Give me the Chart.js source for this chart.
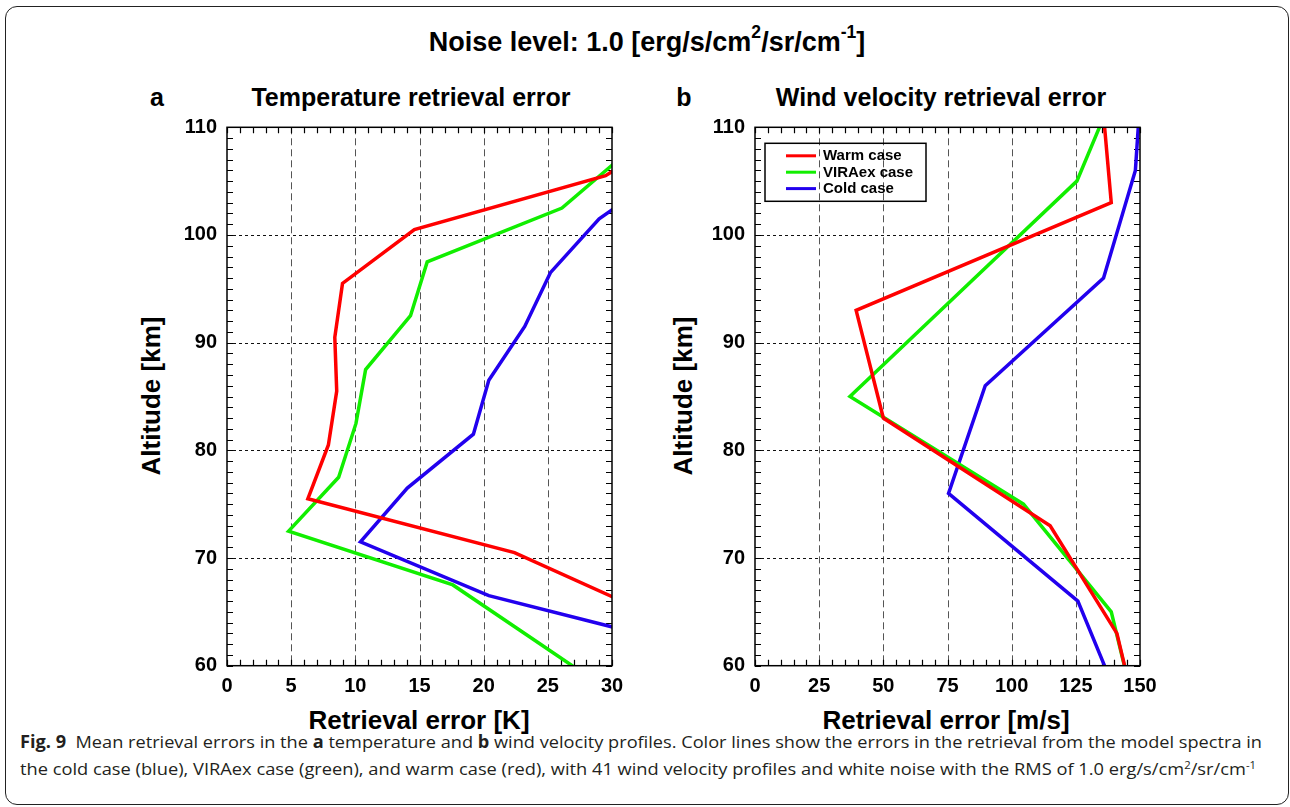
<!DOCTYPE html>
<html>
<head>
<meta charset="utf-8">
<script src="https://cdn.jsdelivr.net/npm/chart.js@4.4.1/dist/chart.umd.min.js"></script>
<style>
  body { margin: 0; width: 1290px; height: 807px; overflow: hidden; background: #fff; position: relative;
         font-family: "Liberation Sans", Arial, sans-serif; }
  .frame { position: absolute; left: 5px; top: 6px; width: 1282px; height: 797px;
           border: 1.3px solid #222; border-radius: 12px; }
  .t { position: absolute; transform: translate(-50%, -50%); white-space: nowrap; font-weight: bold; color: #000; }
  .rot { transform: translate(-50%, -50%) rotate(-90deg); }
  .box { position: absolute; }
  .cap { position: absolute; left: 20px; white-space: nowrap; font-family: "Open Sans", "Noto Sans", sans-serif;
         font-size: 17px; color: #231f20; transform-origin: left center; }
  .cap sup { font-size: 0.62em; vertical-align: 0; position: relative; top: -0.55em; }
  sup { line-height: 0; }
</style>
</head>
<body>
<div class="frame"></div>

<div class="t" style="left:647px; top:42px; font-size:27px;">Noise level: 1.0 [erg/s/cm<sup style="font-size:0.65em; position:relative; top:-0.15em;">2</sup>/sr/cm<sup style="font-size:0.65em; position:relative; top:-0.15em;">-1</sup>]</div>

<div class="t" style="left:157px; top:97px; font-size:25px;">a</div>
<div class="t" style="left:411px; top:97px; font-size:25px;">Temperature retrieval error</div>
<div class="t" style="left:684px; top:97px; font-size:25px;">b</div>
<div class="t" style="left:941px; top:97px; font-size:25px;">Wind velocity retrieval error</div>

<div class="t rot" style="left:151px; top:396px; font-size:26px;">Altitude [km]</div>
<div class="t rot" style="left:683px; top:396px; font-size:26px;">Altitude [km]</div>
<div class="t" style="left:419px; top:720px; font-size:26px;">Retrieval error [K]</div>
<div class="t" style="left:946px; top:720px; font-size:26px;">Retrieval error [m/s]</div>

<div class="box" style="left:130px; top:110px; width:500px; height:600px;"><canvas id="graficoTemp"></canvas></div>
<div class="box" style="left:658px; top:110px; width:500px; height:600px;"><canvas id="graficoViento"></canvas></div>

<div class="cap" id="cap1" style="top:730px;"><b>Fig. 9</b>&nbsp; Mean retrieval errors in the <b>a</b> temperature and <b>b</b> wind velocity profiles. Color lines show the errors in the retrieval from the model spectra in</div>
<div class="cap" id="cap2" style="top:757px;">the cold case (blue), VIRAex case (green), and warm case (red), with 41 wind velocity profiles and white noise with the RMS of 1.0 erg/s/cm<sup>2</sup>/sr/cm<sup>-1</sup></div>

<script>
// Nombres de los casos y colores
const casos = ["Warm case", "VIRAex case", "Cold case"];
const colores = ["#ff0000", "#11ee00", "#2200ee"];

// Panel a: error de temperatura [K] vs altitud [km]
const tempWarmAlt = [110.5, 105.5, 100.5, 95.5, 90.5, 85.5, 80.5, 75.5, 70.5, 65.5, 60.5];
const tempWarmErr = [36, 29.5, 14.6, 9.0, 8.4, 8.55, 7.9, 6.3, 22.4, 31.7, 36];
const tempViraAlt = [107.5, 102.5, 97.5, 92.5, 87.5, 82.5, 77.5, 72.5, 67.5, 62.5, 57.5];
const tempViraErr = [31, 26.1, 15.6, 14.3, 10.8, 10.05, 8.7, 4.8, 17.6, 23.8, 30];
const tempColdAlt = [106.5, 101.5, 96.5, 91.5, 86.5, 81.5, 76.5, 71.5, 66.5, 61.5];
const tempColdErr = [35, 29.0, 25.2, 23.2, 20.4, 19.2, 14.05, 10.4, 20.4, 37];

// Panel b: error de viento [m/s] vs altitud [km]
const vientoWarmAlt = [113, 103, 93, 83, 73, 63, 53];
const vientoWarmErr = [135.1, 138.8, 39.4, 50, 115, 141, 151];
const vientoViraAlt = [115, 105, 95, 85, 75, 65, 55];
const vientoViraErr = [143, 125.4, 81.2, 37.0, 104.6, 138.8, 149];
const vientoColdAlt = [116, 106, 96, 86, 76, 66, 56];
const vientoColdErr = [151, 148.2, 135.8, 89.7, 75.4, 125.8, 143.1];

// Ejes
const altMin = 60, altMax = 110, altStep = 10;
const tempMax = 30, tempStep = 5;
const vientoMax = 150, vientoStep = 25;

const toPts = (alt, err) => alt.map((a, i) => ({ x: err[i], y: a }));

// rejilla punteada, marcas hacia dentro y marco
const marcoRejilla = {
  id: "marcoRejilla",
  beforeDatasetsDraw(chart, args, opts) {
    const { ctx, chartArea: a, scales: { x, y } } = chart;
    ctx.save();
    ctx.lineWidth = 1;
    // verticales
    ctx.strokeStyle = "#555";
    ctx.setLineDash([7, 4]);
    x.ticks.forEach((t) => {
      if (t.value <= x.min || t.value >= x.max) return;
      const px = Math.round(x.getPixelForValue(t.value)) + 0.5;
      ctx.beginPath(); ctx.moveTo(px, a.top); ctx.lineTo(px, a.bottom); ctx.stroke();
    });
    // horizontales
    ctx.strokeStyle = "#111";
    ctx.setLineDash([3, 3]);
    y.ticks.forEach((t) => {
      if (t.value <= y.min || t.value >= y.max) return;
      const py = Math.round(y.getPixelForValue(t.value)) + 0.5;
      ctx.beginPath(); ctx.moveTo(a.left, py); ctx.lineTo(a.right, py); ctx.stroke();
    });
    ctx.setLineDash([]);
    // marcas menores
    ctx.strokeStyle = "#000";
    ctx.lineWidth = 1.2;
    const L = 6;
    for (let v = x.min; v <= x.max + 1e-9; v += opts.xMenor) {
      const px = Math.round(x.getPixelForValue(v)) + 0.5;
      ctx.beginPath();
      ctx.moveTo(px, a.bottom); ctx.lineTo(px, a.bottom - L);
      ctx.moveTo(px, a.top); ctx.lineTo(px, a.top + L);
      ctx.stroke();
    }
    for (let v = y.min; v <= y.max + 1e-9; v += opts.yMenor) {
      const py = Math.round(y.getPixelForValue(v)) + 0.5;
      ctx.beginPath();
      ctx.moveTo(a.left, py); ctx.lineTo(a.left + L, py);
      ctx.moveTo(a.right, py); ctx.lineTo(a.right - L, py);
      ctx.stroke();
    }
    ctx.restore();
  },
  afterDatasetsDraw(chart, args, opts) {
    const { ctx, chartArea: a } = chart;
    ctx.save();
    ctx.strokeStyle = "#000";
    ctx.lineWidth = 1.5;
    ctx.strokeRect(a.left, a.top, a.right - a.left, a.bottom - a.top);
    // leyenda dentro del área
    if (opts.leyenda) {
      const bx = a.left + 10, by = a.top + 16, bw = 161, bh = 58;
      ctx.lineWidth = 1.5;
      ctx.strokeRect(bx, by, bw, bh);
      ctx.font = "bold 15px 'Liberation Sans', Arial, sans-serif";
      ctx.textBaseline = "middle";
      ctx.fillStyle = "#000";
      chart.data.datasets.forEach((ds, i) => {
        const ly = by + 12.5 + i * 16.4;
        ctx.strokeStyle = ds.borderColor;
        ctx.lineWidth = 3;
        ctx.beginPath(); ctx.moveTo(bx + 21, ly); ctx.lineTo(bx + 51, ly); ctx.stroke();
        ctx.fillText(ds.label, bx + 58, ly + 0.5);
      });
    }
    ctx.restore();
  },
};

const fuenteTicks = { family: "'Liberation Sans', Arial, sans-serif", weight: "bold", size: 20 };

function crearGrafico(id, series, xMax, xStep, xMenor, leyenda) {
  const ctx = document.getElementById(id).getContext("2d");
  return new Chart(ctx, {
    type: "line",
    data: {
      datasets: series.map((s, i) => ({
        label: casos[i],
        data: s,
        borderColor: colores[i],
        backgroundColor: colores[i],
        borderWidth: 3.5,
        pointRadius: 0,
        tension: 0,
        borderJoinStyle: "miter",
        fill: false,
      })),
    },
    options: {
      responsive: true,
      maintainAspectRatio: false,
      animation: false,
      layout: { padding: { top: 17.3, right: 18, left: 0, bottom: 0 } },
      plugins: {
        legend: { display: false },
        tooltip: { enabled: false },
        marcoRejilla: { xMenor: xMenor, yMenor: 1, leyenda: leyenda },
      },
      scales: {
        x: {
          type: "linear",
          min: 0,
          max: xMax,
          ticks: { stepSize: xStep, font: fuenteTicks, color: "#000", padding: 9, maxRotation: 0, autoSkip: false },
          grid: { display: false, drawTicks: false },
          border: { display: false },
          afterFit: (s) => { s.height = 44.3; s.paddingLeft = 0; s.paddingRight = 0; },
        },
        y: {
          type: "linear",
          min: altMin,
          max: altMax,
          ticks: { stepSize: altStep, font: fuenteTicks, color: "#000", padding: 10, autoSkip: false },
          grid: { display: false, drawTicks: false },
          border: { display: false },
          afterFit: (s) => { s.width = 97; s.paddingTop = 0; s.paddingBottom = 0; },
        },
      },
    },
    plugins: [marcoRejilla],
  });
}

crearGrafico("graficoTemp", [
  toPts(tempWarmAlt, tempWarmErr),
  toPts(tempViraAlt, tempViraErr),
  toPts(tempColdAlt, tempColdErr),
], tempMax, tempStep, 1, false);

crearGrafico("graficoViento", [
  toPts(vientoWarmAlt, vientoWarmErr),
  toPts(vientoViraAlt, vientoViraErr),
  toPts(vientoColdAlt, vientoColdErr),
], vientoMax, vientoStep, 5, true);

// ajustar el ancho del pie de figura
[["cap1", 1242], ["cap2", 1236]].forEach(([id, w]) => {
  const el = document.getElementById(id);
  const real = el.getBoundingClientRect().width;
  el.style.transform = "scaleX(" + (w / real) + ")";
});
</script>
</body>
</html>
